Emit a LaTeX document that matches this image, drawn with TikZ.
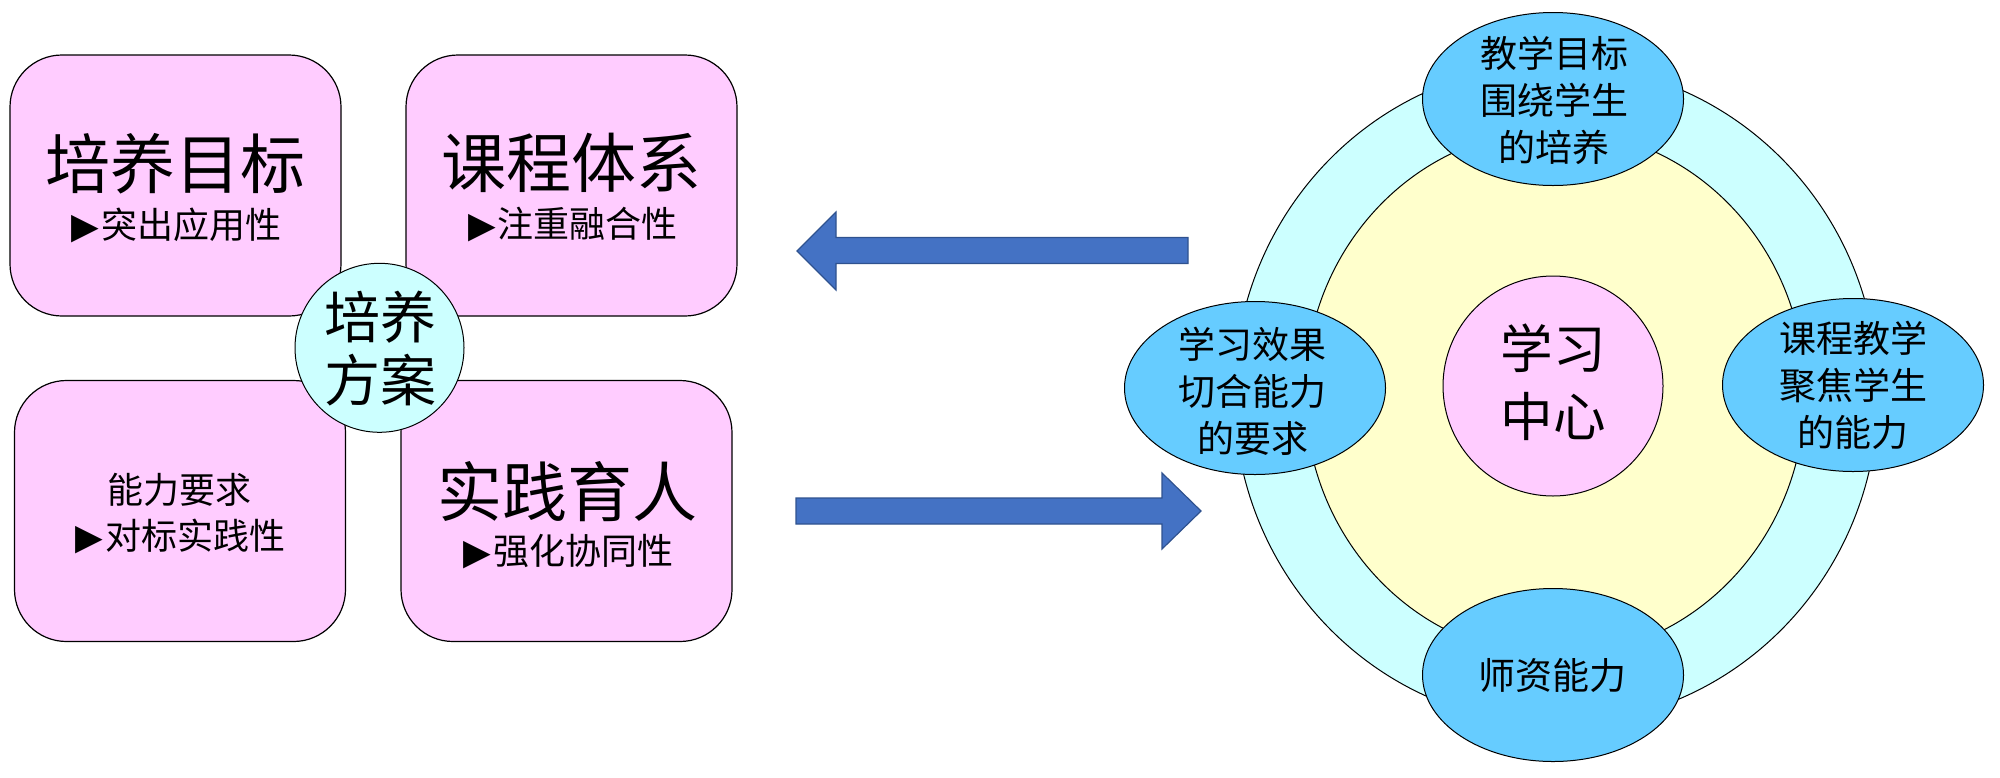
\documentclass[tikz,border=0pt]{standalone}
\usepackage{fontspec}
\newfontfamily\cjk{Noto Sans CJK SC}
\newfontfamily\dejavu{DejaVu Sans}
\usetikzlibrary{shapes.geometric}
\definecolor{pinkfill}{HTML}{FFCCFF}
\definecolor{cyanfill}{HTML}{CCFFFF}
\definecolor{yellowfill}{HTML}{FFFFCC}
\definecolor{bluefill}{HTML}{66CCFF}
\definecolor{arrowfill}{HTML}{4472C4}
\definecolor{arrowline}{HTML}{2F528F}
\newcommand{\tri}{{\dejavu ▶}\hspace{1pt}}
\tikzset{
  pbox/.style={draw=black, line width=0.6pt, fill=pinkfill, rounded corners=26pt,
    minimum width=165.5pt, minimum height=130.5pt, inner sep=0pt},
  oval/.style={draw=black, line width=0.5pt, ellipse, inner sep=0pt},
  blueoval/.style={oval, fill=bluefill, minimum width=130.5pt, minimum height=86.5pt},
  titletext/.style={font=\cjk\fontsize{32.5}{38}\selectfont, inner sep=0pt},
  subtext/.style={font=\cjk\fontsize{18}{22}\selectfont, inner sep=0pt},
  ovaltext/.style={font=\cjk\fontsize{18.5}{23.5}\selectfont, inner sep=0pt, align=center},
  blockarrow/.style={fill=arrowfill, draw=arrowline, line width=0.6pt, line join=miter}
}
\begin{document}
\begin{tikzpicture}[x=0.5pt, y=-0.5pt]
\useasboundingbox (0,0) rectangle (2000,777);

% ---------- left: training plan ----------
\node[pbox] (goal) at (175.5,185.5) {};
\node[pbox] (course) at (571.5,185.5) {};
\node[pbox] (ability) at (180,511) {};
\node[pbox] (practice) at (566.5,511) {};

\node[titletext] (goalT) at (175,163.3) {培养目标};
\node[subtext] (goalS) at (176.7,225) {\tri 突出应用性};
\node[titletext] (courseT) at (571.5,163.3) {课程体系};
\node[subtext] (courseS) at (573,225) {\tri 注重融合性};
\node[subtext] (abilityT) at (179,490) {能力要求};
\node[subtext] (abilityS) at (180.7,536) {\tri 对标实践性};
\node[titletext] (practiceT) at (567.5,491.7) {实践育人};
\node[subtext] (practiceS) at (568.3,551.7) {\tri 强化协同性};

\node[oval, fill=cyanfill, minimum width=84.5pt, minimum height=84.5pt] (plan) at (379.5,347.8) {};
\node[font=\cjk\fontsize{28}{31.7}\selectfont, inner sep=0pt, align=center] (planT) at (380,348.3) {培养\\方案};

% ---------- arrows ----------
\draw[blockarrow] (797,251) -- (836,212) -- (836,237.5) -- (1188,237.5) -- (1188,263.5) -- (836,263.5) -- (836,290) -- cycle;
\draw[blockarrow] (1201,511) -- (1162,473) -- (1162,498) -- (796,498) -- (796,524) -- (1162,524) -- (1162,549) -- cycle;

% ---------- right: learning centre ----------
\node[oval, fill=cyanfill, minimum width=322pt, minimum height=330pt] (outer) at (1556,394) {};
\node[oval, fill=yellowfill, minimum width=250pt, minimum height=263pt] (inner) at (1555,393) {};
\node[oval, fill=pinkfill, minimum width=110pt, minimum height=110pt] (centre) at (1553,386) {};
\node[font=\cjk\fontsize{26.3}{34.2}\selectfont, inner sep=0pt, align=center] (centreT) at (1553,382.5) {学习\\中心};

\node[blueoval] (top) at (1553,99) {};
\node[blueoval] (bottom) at (1553,675) {};
\node[blueoval] (left) at (1255,388) {};
\node[blueoval] (right) at (1853,385) {};

\node[ovaltext] (topT) at (1554,100) {教学目标\\围绕学生\\的培养};
\node[ovaltext] (bottomT) at (1552.5,675) {师资能力};
\node[ovaltext] (leftT) at (1252.5,391) {学习效果\\切合能力\\的要求};
\node[ovaltext] (rightT) at (1853,385.5) {课程教学\\聚焦学生\\的能力};
\end{tikzpicture}
\end{document}
